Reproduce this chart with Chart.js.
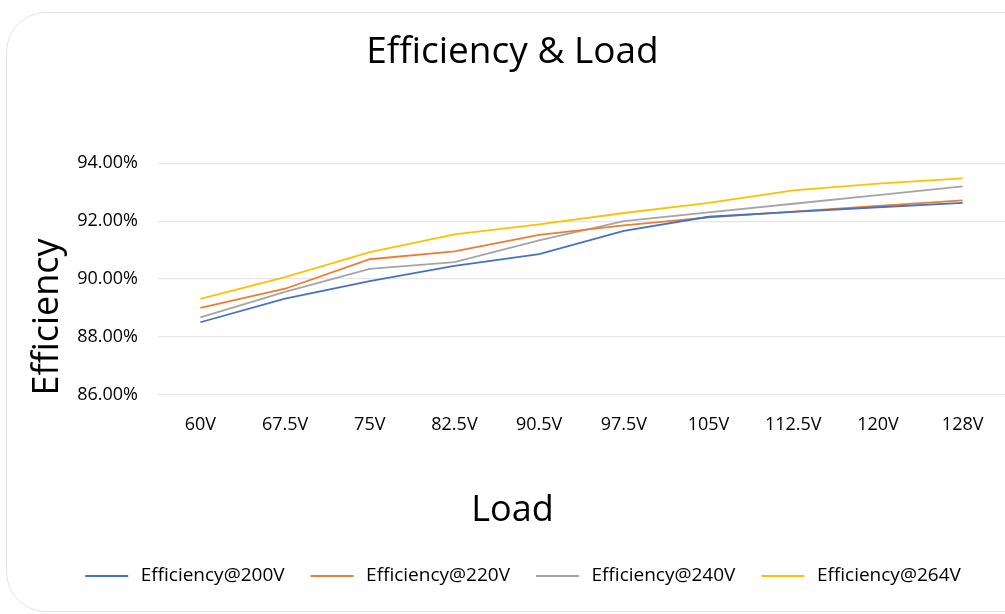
<!DOCTYPE html>
<html>
<head>
<meta charset="utf-8">
<script src="https://cdn.jsdelivr.net/npm/chart.js@4.4.1/dist/chart.umd.min.js"></script>
<style>
  html, body { margin: 0; padding: 0; background: #ffffff; }
  #wrap { position: relative; width: 1005px; height: 614px; overflow: hidden; }
  #card { position: absolute; left: 6px; top: 12px; width: 1100px; height: 600px;
          border: 1px solid #e3e3e3; border-radius: 40px; box-sizing: border-box; }
  #c { position: absolute; left: 0; top: 0; }
</style>
</head>
<body>
<div id="wrap">
  <div id="card"></div>
  <canvas id="c" width="1005" height="614"></canvas>
</div>
<script>
const categories = ['60V', '67.5V', '75V', '82.5V', '90.5V', '97.5V', '105V', '112.5V', '120V', '128V'];
const eff200 = [88.50, 89.32, 89.92, 90.45, 90.86, 91.66, 92.15, 92.32, 92.48, 92.63];
const eff220 = [89.00, 89.66, 90.68, 90.95, 91.52, 91.85, 92.13, 92.33, 92.53, 92.72];
const eff240 = [88.67, 89.55, 90.35, 90.58, 91.33, 92.00, 92.30, 92.60, 92.90, 93.20];
const eff264 = [89.31, 90.06, 90.93, 91.54, 91.89, 92.28, 92.63, 93.06, 93.30, 93.48];
const seriesNames = ['Efficiency@200V', 'Efficiency@220V', 'Efficiency@240V', 'Efficiency@264V'];
const seriesColors = ['#4472C4', '#ED7D31', '#A5A5A5', '#FFC000'];
const chartTitle = 'Efficiency & Load';
const xTitle = 'Load';
const yTitle = 'Efficiency';
const yMin = 86, yMax = 94, yStep = 2;

const FONT = "'Open Sans', 'Noto Sans', sans-serif";

function legendLine(color) {
  const cv = document.createElement('canvas');
  cv.width = 67; cv.height = 4;
  const g = cv.getContext('2d');
  g.strokeStyle = color; g.lineWidth = 1.8;
  g.beginPath(); g.moveTo(21, 2); g.lineTo(64, 2); g.stroke();
  return cv;
}
const legendImgs = seriesColors.map(legendLine);

const yTitlePlugin = {
  id: 'yTitle',
  afterDraw(chart) {
    const ctx = chart.ctx;
    ctx.save();
    ctx.translate(48, 317);
    ctx.rotate(-Math.PI / 2);
    ctx.font = "36px " + FONT;
    ctx.fillStyle = '#000';
    ctx.textAlign = 'center';
    ctx.textBaseline = 'middle';
    ctx.fillText(yTitle, 0, 0);
    ctx.restore();
  }
};

const datasets = [eff200, eff220, eff240, eff264].map((d, i) => ({
  label: seriesNames[i],
  data: d,
  borderColor: seriesColors[i],
  backgroundColor: seriesColors[i],
  borderWidth: 1.8,
  pointRadius: 0,
  tension: 0,
  fill: false
}));

new Chart(document.getElementById('c'), {
  type: 'line',
  data: { labels: categories, datasets },
  plugins: [yTitlePlugin],
  options: {
    responsive: false,
    animation: false,
    devicePixelRatio: 1,
    layout: { padding: { left: 20, right: 0, top: 0, bottom: 18.5 } },
    plugins: {
      title: {
        display: true, text: chartTitle, color: '#000',
        font: { family: FONT, size: 37, weight: 'normal', lineHeight: 1.2 },
        padding: { top: 30, bottom: 88.9 }
      },
      subtitle: {
        display: true, text: xTitle, position: 'bottom', color: '#000',
        font: { family: FONT, size: 36, weight: 'normal', lineHeight: 1.2 },
        padding: { top: 44.9, bottom: 28.9 }
      },
      legend: {
        position: 'bottom',
        weight: 3000,
        labels: {
          usePointStyle: true,
          pointStyleWidth: 67,
          boxHeight: 4,
          padding: 5,
          color: '#000',
          font: { family: FONT, size: 19 },
          generateLabels(chart) {
            const items = Chart.defaults.plugins.legend.labels.generateLabels(chart);
            items.forEach((it, i) => { it.pointStyle = legendImgs[i]; });
            return items;
          }
        }
      },
      tooltip: { enabled: false }
    },
    scales: {
      x: {
        offset: true,
        grid: { display: false, drawTicks: false, offset: true },
        border: { display: false },
        ticks: { color: '#000', padding: 20, font: { family: FONT, size: 18 }, maxRotation: 0 },
        afterFit(s) { s.height = 50; }
      },
      y: {
        min: yMin, max: yMax,
        grid: { color: '#e6e6e6', lineWidth: 1.2, drawTicks: false },
        border: { display: false },
        ticks: {
          stepSize: yStep, color: '#000', padding: 20,
          font: { family: FONT, size: 18 },
          callback: v => v.toFixed(2) + '%'
        },
        afterFit(s) { s.width = 138; }
      }
    }
  }
});
</script>
</body>
</html>
